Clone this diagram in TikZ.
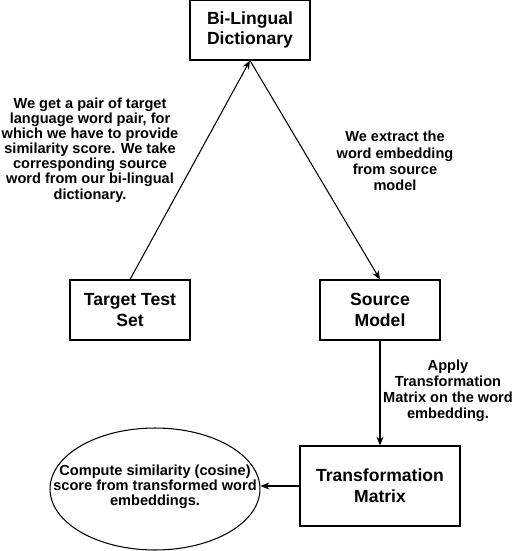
\documentclass[tikz,border=0pt]{standalone}
\usepackage{fontspec}
\setmainfont{Liberation Sans}
\usetikzlibrary{arrows.meta, shapes.geometric}

\tikzset{
  box/.style={draw, line width=0.6pt, minimum width=2.4cm, minimum height=1.2cm,
    align=center, font=\fontsize{10}{11.8}\selectfont\bfseries},
  lbl/.style={align=center, font=\fontsize{8.3}{8.6}\selectfont\bfseries},
  widelbl/.style={align=center, font=\fontsize{8.3}{9.2}\selectfont\bfseries},
}

\begin{document}
\begin{tikzpicture}[x=0.02cm, y=-0.02cm, >={Stealth[length=5pt,width=4pt]}, line width=0.6pt]
    \useasboundingbox (0,0) rectangle (521,551);
    \node[box] (dict) at (250,30) {Bi-Lingual\\Dictionary};
    \node[box] (target) at (130,310) {Target Test\\Set};
    \node[box] (source) at (380,310) {Source\\Model};
    \node[box, minimum width=3.2cm, minimum height=1.6cm] (trans) at (380,486) {Transformation\\Matrix};
    \node[draw, ellipse, line width=0.6pt, minimum width=4.2cm, minimum height=2.44cm] (sim) at (155,489) {};
    \node[lbl] (simtext) at (155,487) {Compute similarity (cosine)\\score from transformed word\\embeddings.};
    \node[lbl] (lget) at (90,150) {We get a pair of target\\language word pair, for\\which we have to provide\\similarity score. We take\\corresponding source\\word from our bi-lingual\\dictionary.};
    \node[widelbl] (lext) at (395,161) {We extract the\\word embedding\\from source\\model};
    \node[widelbl] (lapp) at (448,391) {Apply\\Transformation\\Matrix on the word\\embedding.};
    \draw [->] (target.north) -- (dict.south);
    \draw [->] (dict.south) -- (source.north);
    \draw [->] (source.south) -- (trans.north);
    \draw [->] (trans.west) -- (trans.west -| sim.east);
\end{tikzpicture}
\end{document}
